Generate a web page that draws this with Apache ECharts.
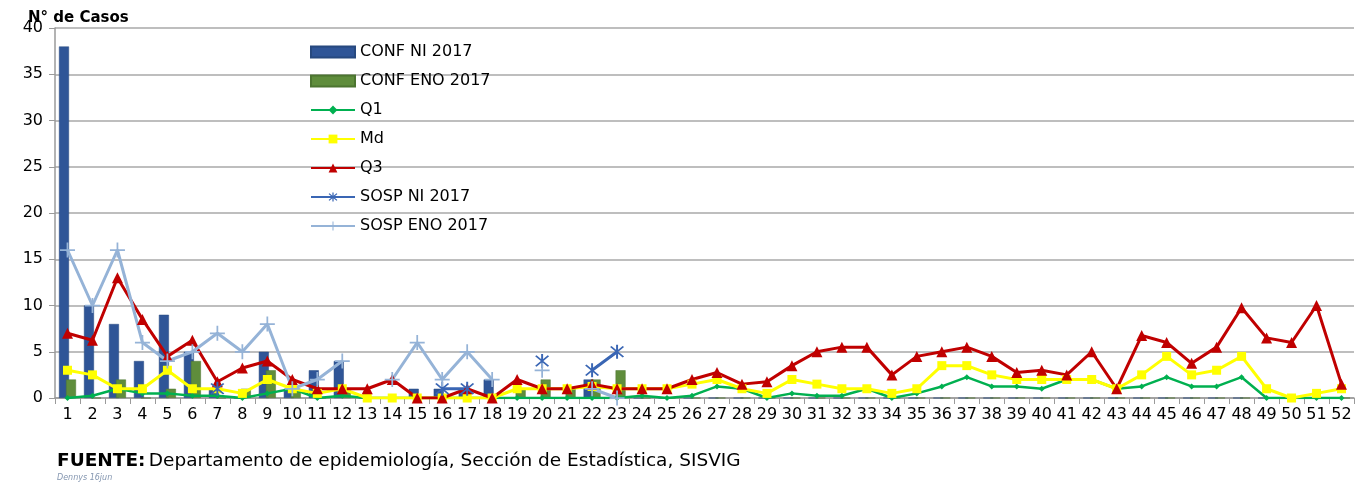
<!DOCTYPE html>
<html>
<head>
<meta charset="utf-8">
<title>Casos por semana 2017</title>
<script src="https://cdn.jsdelivr.net/npm/echarts@6/dist/echarts.min.js"></script>
<style>
html,body{margin:0;padding:0;background:#fff;}
#main{width:1355px;height:482px;}
</style>
</head>
<body>
<div id="main"></div>
<script type="text/javascript">
// semanas epidemiologicas
var weeks = [];
for (var w = 1; w <= 52; w++) { weeks.push(String(w)); }

var confNI = [38,10,8,4,9,5,1,0,5,1,3,4,0,0,1,1,1,2,0,0,0,2,0,0,0,0,
              0,0,0,0,0,0,0,0,0,0,0,0,0,0,0,0,0,0,0,0,0,0,0,0,0,0];
var confENO = [2,0,2,0,1,4,0,1,3,1,0,1,0,0,0,0,0,0,1,2,1,2,3,0,0,0,
               0,0,0,0,0,0,0,0,0,0,0,0,0,0,0,0,0,0,0,0,0,0,0,0,0,0];
var q1 = [0,0.25,1,0.5,0.5,0.25,0.25,0,0.5,1,0,0.25,0,0,0,0,0,0,0,0,0,0,0,0.25,0,0.25,
          1.25,1,0,0.5,0.25,0.25,1,0,0.5,1.25,2.25,1.25,1.25,1,2,2,1,1.25,2.25,1.25,1.25,2.25,0,0,0,0];
var md = [3,2.5,1,1,3,1,1,0.5,2,1,0.5,1,0,0,0,0,0,0,1,1,1,1.25,1,1,1,1.5,
          2,1,0.5,2,1.5,1,1,0.5,1,3.5,3.5,2.5,2,2,2,2,1,2.5,4.5,2.5,3,4.5,1,0,0.5,1];
var q3 = [7,6.25,13,8.5,4.5,6.25,1.75,3.25,4,2,1,1,1,2,0,0,1,0,2,1,1,1.5,1,1,1,2,
          2.75,1.5,1.75,3.5,5,5.5,5.5,2.5,4.5,5,5.5,4.5,2.75,3,2.5,5,1,6.75,6,3.75,5.5,9.75,6.5,6,10,1.5];
var sospNI = [null,null,null,null,null,null,1,null,null,null,null,null,null,null,null,1,1,null,null,4,null,3,5,null,null,null,
              null,null,null,null,null,null,null,null,null,null,null,null,null,null,null,null,null,null,null,null,null,null,null,null,null,null];
var sospENO = [16,10,16,6,4,5,7,5,8,1,2,4,null,2,6,2,5,2,null,3,null,1,0,null,null,null,
               null,null,null,null,null,null,null,null,null,null,null,null,null,null,null,null,null,null,null,null,null,null,null,null,null,null];

var plusSymbol = 'path://M5.3,0H6.7V5.3H12V6.7H6.7V12H5.3V6.7H0V5.3H5.3Z';
var starSymbol = 'path://M5.3,0H6.7V12H5.3Z M1,2 L2,1 L11,10 L10,11Z M10,1 L11,2 L2,11 L1,10Z';

var myChart = echarts.init(document.getElementById('main'));

var lineSeries = function (name, data, color, symbol, size, width) {
    return {
        name: name,
        type: 'line',
        data: data,
        symbol: symbol,
        symbolSize: size,
        showAllSymbol: true,
        connectNulls: false,
        lineStyle: { color: color, width: width },
        itemStyle: { color: color },
        emphasis: { disabled: true }
    };
};

var option = {
    animation: false,
    textStyle: { fontFamily: 'DejaVu Sans' },
    grid: { left: 55, right: 1, top: 28, bottom: 84, containLabel: false },
    legend: {
        orient: 'vertical',
        left: 310,
        top: 44,
        padding: 0,
        itemWidth: 44,
        itemHeight: 11,
        itemGap: 13,
        textStyle: { fontSize: 16, color: '#000', fontFamily: 'DejaVu Sans' },
        data: [
            { name: 'CONF NI 2017', icon: 'rect' },
            { name: 'CONF ENO 2017', icon: 'rect' },
            'Q1', 'Md', 'Q3', 'SOSP NI 2017', 'SOSP ENO 2017'
        ]
    },
    xAxis: {
        type: 'category',
        data: weeks,
        boundaryGap: true,
        axisLine: { lineStyle: { color: '#9a9a9a', width: 1.5 } },
        axisTick: { show: true, length: 6, lineStyle: { color: '#9a9a9a' } },
        axisLabel: { interval: 0, fontSize: 16, color: '#000', margin: 9 }
    },
    yAxis: {
        type: 'value',
        min: 0,
        max: 40,
        interval: 5,
        axisLine: { show: true, lineStyle: { color: '#9a9a9a', width: 1.5 } },
        axisTick: { show: true, length: 6, lineStyle: { color: '#9a9a9a' } },
        axisLabel: { fontSize: 16, color: '#000', margin: 12 },
        splitLine: { lineStyle: { color: '#a8a8a8', width: 1.5 } }
    },
    graphic: [
        {
            type: 'text', left: 28, top: 11,
            style: { text: 'N° de Casos', font: 'bold 15px "DejaVu Sans"', fill: '#000' }
        },
        {
            type: 'text', left: 57, top: 452,
            style: {
                text: '{b|FUENTE:} {n|Departamento de epidemiología, Sección de Estadística, SISVIG}',
                rich: {
                    b: { font: 'bold 18.5px "DejaVu Sans"', fill: '#000' },
                    n: { font: '18.5px "DejaVu Sans"', fill: '#000' }
                }
            }
        },
        {
            type: 'text', left: 57, top: 474,
            style: { text: 'Dennys 16jun', font: 'italic 8px "DejaVu Sans"', fill: '#8496b0' }
        }
    ],
    series: [
        {
            name: 'CONF NI 2017',
            type: 'bar',
            data: confNI,
            barWidth: 10,
            barGap: '-30%',
            itemStyle: { color: '#2f5597', borderColor: '#27497f', borderWidth: 0.5 }
        },
        {
            name: 'CONF ENO 2017',
            type: 'bar',
            data: confENO,
            barWidth: 10,
            itemStyle: { color: '#5f8d3c', borderColor: '#4c7530', borderWidth: 0.5 }
        },
        lineSeries('Q1', q1, '#00b050', 'diamond', 6, 2.5),
        lineSeries('Md', md, '#ffff00', 'rect', 9, 3),
        lineSeries('Q3', q3, '#c00000', 'triangle', 11, 3),
        lineSeries('SOSP NI 2017', sospNI, '#3a66b4', starSymbol, 14, 3),
        lineSeries('SOSP ENO 2017', sospENO, '#95b3d7', plusSymbol, 15, 3)
    ]
};

myChart.setOption(option);
</script>
</body>
</html>
